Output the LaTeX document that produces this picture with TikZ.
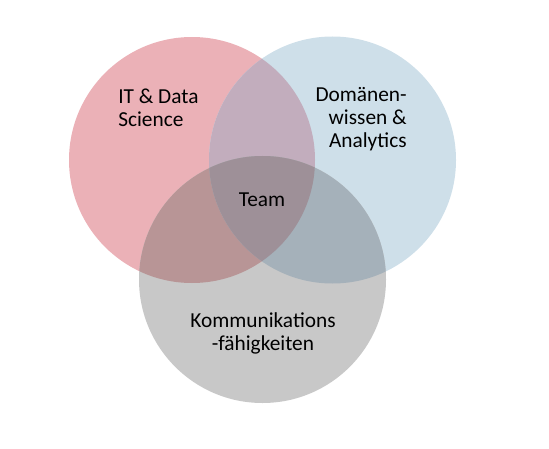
\documentclass[tikz,border=0pt]{standalone}
\usepackage{fontspec}
\setmainfont{Carlito}
\usepackage{xcolor}
\usetikzlibrary{positioning}
\definecolor{itred}{HTML}{EBB1B7}
\definecolor{domblue}{HTML}{CEDFE9}
\definecolor{komgray}{HTML}{C8C8C8}
\definecolor{redblue}{HTML}{C2ADBD}
\definecolor{redgray}{HTML}{B89596}
\definecolor{bluegray}{HTML}{A5B1BA}
\definecolor{teamcol}{HTML}{9E9098}
\tikzset{
  label/.style={inner sep=0pt, font=\fontsize{16}{17.3}\selectfont, text=black},
  redset/.style={insert path={(192,160) circle[radius=123]}},
  blueset/.style={insert path={(332.5,160) circle[radius=123.5]}},
  grayset/.style={insert path={(262.5,279.5) circle[radius=123.5]}}
}

\begin{document}
\begin{tikzpicture}[x=0.75pt,y=-0.75pt]
        \useasboundingbox (0,0) rectangle (549,449);
        % three sets
        \fill[itred, redset];
        \fill[domblue, blueset];
        \begin{scope}
          \clip[redset];
          \fill[redblue, blueset];
        \end{scope}
        \fill[komgray, grayset];
        \begin{scope}
          \clip[grayset];
          \fill[redgray, redset];
          \fill[bluegray, blueset];
          \clip[redset];
          \fill[teamcol, blueset];
        \end{scope}
        % labels
        \node[label, anchor=west, align=left] (it) at (118,107.5) {IT \& Data\\Science};
        \node[label, anchor=east, align=right] (dom) at (407,119) {Domänen-\\wissen \&\\Analytics};
        \node[label] (team) at (262,200) {Team};
        \node[label, align=center] (kom) at (263,333.5) {Kommunikations\\-fähigkeiten};
      \end{tikzpicture}
\end{document}
